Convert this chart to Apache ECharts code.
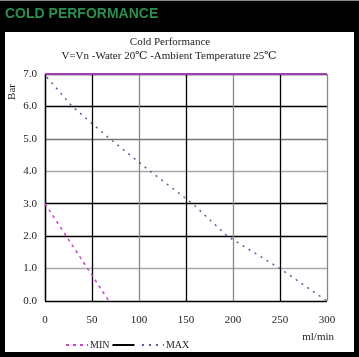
<!DOCTYPE html>
<html><head><meta charset="utf-8">
<script src="https://cdn.jsdelivr.net/npm/echarts@6/dist/echarts.min.js"></script>
<style>html,body{margin:0;padding:0;background:#000}#c{width:359px;height:357px}</style>
</head><body><div id="c"></div>
<script>
const header = 'COLD PERFORMANCE';
const chartTitle = 'Cold Performance';
const chartSubtitle = 'V=Vn -Water 20℃ -Ambient Temperature 25℃';
const yName = 'Bar';
const xName = 'ml/min';
const xTicks = [0, 50, 100, 150, 200, 250, 300];
const yTicks = [0, 1, 2, 3, 4, 5, 6, 7];
const minFlow = [0, 68];
const minPressure = [3.0, 0.0];
const maxFlow = [2, 29, 69, 112, 157, 194, 250, 300];
const maxPressure = [6.9, 6.0, 5.0, 4.0, 3.0, 2.0, 1.0, 0.0];
const topFlow = [0, 300];
const topPressure = [7.0, 7.0];

const pair = (xs, ys) => xs.map((x, i) => [x, ys[i]]);
const serif = "'Liberation Serif','DejaVu Serif',serif";
const chart = echarts.init(document.getElementById('c'), null, {renderer: 'canvas'});
chart.setOption({
  backgroundColor: '#000',
  animation: false,
  graphic: [
    {type: 'rect', left: 0, top: 0, shape: {width: 359, height: 1}, style: {fill: '#888'}, z: 0},
    {type: 'text', left: 5, top: 7, style: {text: header, fill: '#2c8f4e', font: 'bold 14px "Liberation Sans", Arial, sans-serif'}, z: 1},
    {type: 'rect', left: 5, top: 32, shape: {width: 349, height: 320}, style: {fill: '#fff'}, z: -10},
    {type: 'text', x: 170, y: 37, style: {text: chartTitle, fill: '#222', font: '11px ' + serif, align: 'center'}, z: 5},
    {type: 'text', x: 169, y: 51, style: {text: chartSubtitle, fill: '#222', font: '11px ' + serif, align: 'center'}, z: 5},
    {type: 'text', x: 12, y: 92, rotation: Math.PI / 2, style: {text: yName, fill: '#222', font: '11px ' + serif, align: 'center', verticalAlign: 'middle'}, z: 5},
    {type: 'text', x: 334, y: 332, style: {text: xName, fill: '#222', font: '11px ' + serif, align: 'right'}, z: 5}
  ],
  grid: {left: 45, right: 32, top: 74, bottom: 56},
  legend: {
    left: 60, top: 335, itemGap: 2, itemWidth: 22, itemHeight: 10,
    itemStyle: {opacity: 0},
    textStyle: {fontFamily: serif, fontSize: 10, color: '#222', padding: [0, 0, 0, -3]},
    data: [{name: 'MIN'}, {name: ' '}, {name: 'MAX'}]
  },
  xAxis: {
    type: 'value', min: 0, max: 300, interval: 50,
    axisLine: {show: false},
    axisTick: {show: false},
    axisLabel: {margin: 14, color: '#222', fontFamily: serif, fontSize: 11,
      formatter: v => xTicks.includes(v) ? String(v) : ''},
    splitLine: {show: true, lineStyle: {width: 1.3, color: ['#000', '#000', '#888', '#000', '#888', '#000', '#888']}}
  },
  yAxis: {
    type: 'value', min: 0, max: 7, interval: 1,
    axisLine: {show: true, lineStyle: {color: '#000', width: 1.3}},
    axisTick: {show: false},
    axisLabel: {margin: 8, color: '#222', fontFamily: serif, fontSize: 11,
      formatter: v => yTicks.includes(v) ? v.toFixed(1) : ''},
    splitLine: {show: true, lineStyle: {width: 1.3, color: ['#000', '#aaa', '#000', '#000', '#aaa', '#777', '#000', '#000']}}
  },
  series: [
    {name: 'MIN', type: 'line', symbol: 'none', data: pair(minFlow, minPressure),
      lineStyle: {color: '#d040d0', width: 1.5, type: [3, 4]}, itemStyle: {color: '#d040d0'}},
    {name: ' ', type: 'line', symbol: 'none', data: [],
      lineStyle: {color: '#000', width: 2}, itemStyle: {color: '#000'}},
    {name: 'MAX', type: 'line', symbol: 'none', data: pair(maxFlow, maxPressure),
      lineStyle: {color: '#5060a0', width: 1.5, type: [2, 5]}, itemStyle: {color: '#5060a0'}},
    {name: 'top', type: 'line', symbol: 'none', data: pair(topFlow, topPressure), z: 3,
      lineStyle: {color: '#a040b0', width: 2}}
  ]
});
</script></body></html>
